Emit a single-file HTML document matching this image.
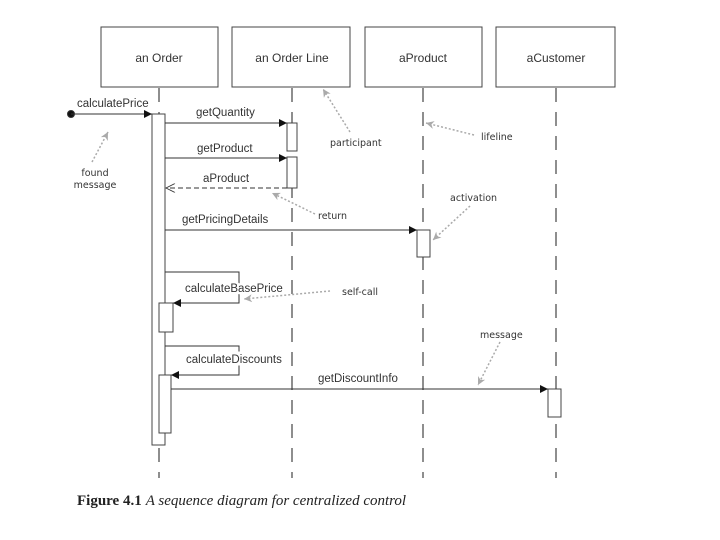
<!DOCTYPE html>
<html><head><meta charset="utf-8"><style>html,body{margin:0;padding:0;background:#fff}svg{display:block}</style></head>
<body>
<svg width="720" height="540" viewBox="0 0 720 540" xmlns="http://www.w3.org/2000/svg" font-family="Liberation Sans, sans-serif">
<defs>
<marker id="fa" viewBox="0 0 10 10" refX="10" refY="5" markerWidth="10" markerHeight="8" markerUnits="userSpaceOnUse" orient="auto"><path d="M0,0L10,5L0,10z" fill="#111"/></marker>
<marker id="ga" viewBox="0 0 10 10" refX="10" refY="5" markerWidth="8" markerHeight="8" markerUnits="userSpaceOnUse" orient="auto"><path d="M0,0L10,5L0,10L3,5z" fill="#aaa"/></marker>
<marker id="oa" viewBox="0 0 10 10" refX="10" refY="5" markerWidth="10" markerHeight="9" markerUnits="userSpaceOnUse" orient="auto"><path d="M0,0L10,5L0,10" fill="none" stroke="#333"/></marker>
</defs>
<g fill="#fff" stroke="#444" stroke-width="1">
<rect x="101" y="27" width="117" height="60"/>
<rect x="232" y="27" width="118" height="60"/>
<rect x="365" y="27" width="117" height="60"/>
<rect x="496" y="27" width="119" height="60"/>
</g>
<g font-size="12" fill="#333" text-anchor="middle">
<text x="159" y="62">an Order</text>
<text x="292" y="62">an Order Line</text>
<text x="423" y="62">aProduct</text>
<text x="556" y="62">aCustomer</text>
</g>
<g stroke="#444" stroke-width="1.2" stroke-dasharray="14,10">
<line x1="159" y1="88" x2="159" y2="478"/>
<line x1="292" y1="88" x2="292" y2="478"/>
<line x1="423" y1="88" x2="423" y2="478"/>
<line x1="556" y1="88" x2="556" y2="478"/>
</g>
<g fill="#fff" stroke="#444" stroke-width="1">
<rect x="152" y="114" width="13" height="331"/>
<rect x="287" y="123" width="10" height="28"/>
<rect x="287" y="157" width="10" height="31"/>
<rect x="417" y="230" width="13" height="27"/>
<rect x="159" y="303" width="14" height="29"/>
<rect x="159" y="375" width="12" height="58"/>
<rect x="548" y="389" width="13" height="28"/>
</g>
<g stroke="#333" stroke-width="1" fill="none">
<circle cx="71" cy="114" r="3.5" fill="#111"/>
<line x1="71" y1="114" x2="152" y2="114" marker-end="url(#fa)"/>
<line x1="165" y1="123" x2="287" y2="123" marker-end="url(#fa)"/>
<line x1="165" y1="158" x2="287" y2="158" marker-end="url(#fa)"/>
<line x1="287" y1="188" x2="166" y2="188" stroke-dasharray="5,3" marker-end="url(#oa)"/>
<line x1="165" y1="230" x2="417" y2="230" marker-end="url(#fa)"/>
<polyline points="165,272 239,272 239,303 173,303" marker-end="url(#fa)"/>
<polyline points="165,346 239,346 239,375 171,375" marker-end="url(#fa)"/>
<line x1="171" y1="389" x2="548" y2="389" marker-end="url(#fa)"/>
</g>
<g font-size="11.5" fill="#333">
<text x="77" y="107">calculatePrice</text>
<text x="196" y="116">getQuantity</text>
<text x="197" y="152">getProduct</text>
<text x="203" y="182">aProduct</text>
<text x="182" y="223">getPricingDetails</text>
<text x="185" y="292" stroke="#fff" stroke-width="5" paint-order="stroke">calculateBasePrice</text>
<text x="186" y="363" stroke="#fff" stroke-width="5" paint-order="stroke">calculateDiscounts</text>
<text x="318" y="382">getDiscountInfo</text>
</g>
<g stroke="#aaa" stroke-width="1.5" stroke-dasharray="2,2" fill="none">
<line x1="92" y1="162" x2="108" y2="132" marker-end="url(#ga)"/>
<line x1="350" y1="132" x2="323" y2="89" marker-end="url(#ga)"/>
<line x1="474" y1="135" x2="426" y2="123" marker-end="url(#ga)"/>
<line x1="470" y1="206" x2="433" y2="240" marker-end="url(#ga)"/>
<line x1="315" y1="214" x2="272" y2="193" marker-end="url(#ga)"/>
<line x1="330" y1="291" x2="244" y2="299" marker-end="url(#ga)"/>
<line x1="500" y1="342" x2="478" y2="385" marker-end="url(#ga)"/>
</g>
<g font-size="9.5" fill="#333" font-family="DejaVu Sans, sans-serif">
<text x="95" y="176" text-anchor="middle">found</text>
<text x="95" y="188" text-anchor="middle">message</text>
<text x="330" y="146">participant</text>
<text x="481" y="140">lifeline</text>
<text x="450" y="201">activation</text>
<text x="318" y="219">return</text>
<text x="342" y="295">self-call</text>
<text x="480" y="338">message</text>
</g>
<text x="77" y="505" font-family="Liberation Serif, serif" font-size="15" fill="#222"><tspan font-weight="bold">Figure 4.1</tspan><tspan font-style="italic" dx="4">A sequence diagram for centralized control</tspan></text>
</svg>
</body></html>
